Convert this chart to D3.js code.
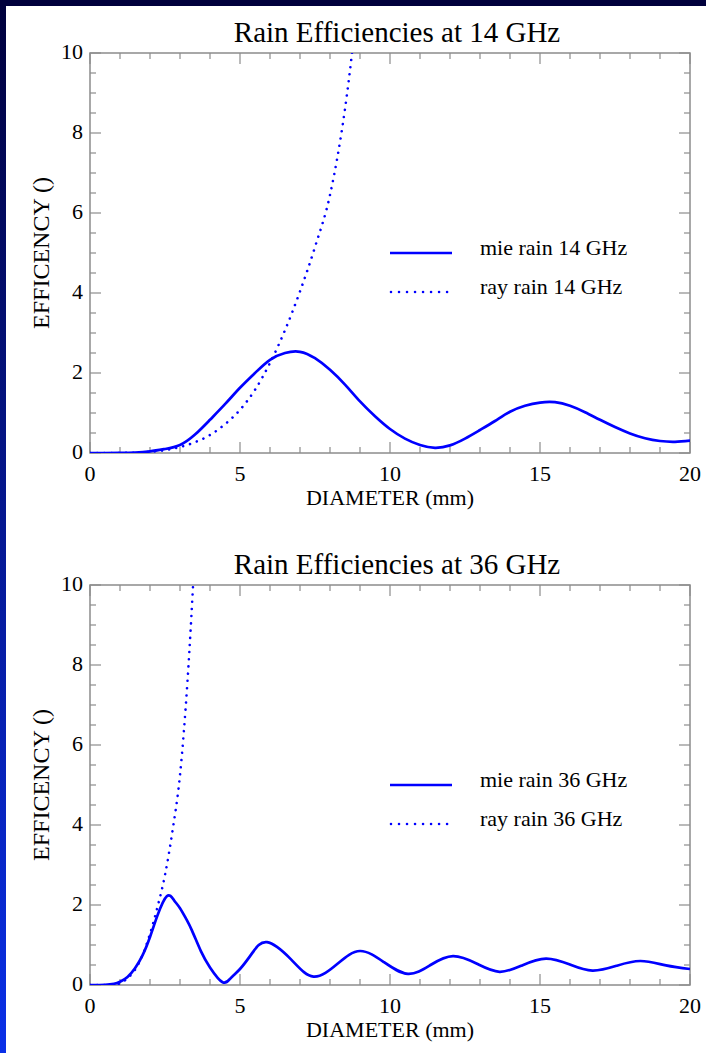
<!DOCTYPE html>
<html>
<head>
<meta charset="utf-8">
<script src="https://cdn.jsdelivr.net/npm/d3@7"></script>
<style>
  html, body { margin: 0; padding: 0; background: #ffffff; }
  svg { display: block; }
  text { font-family: "Liberation Serif", "Times New Roman", serif; fill: #000; }
</style>
</head>
<body>
<svg id="chart" width="706" height="1053"></svg>
<script>
// ---------- data ----------
const titles = ["Rain Efficiencies at 14 GHz", "Rain Efficiencies at 36 GHz"];
const xTickValues = [0, 5, 10, 15, 20];
const yTickValues = [0, 2, 4, 6, 8, 10];
const xLabel = "DIAMETER (mm)";
const yLabel = "EFFICENCY ()";
const legend14 = ["mie rain 14 GHz", "ray rain 14 GHz"];
const legend36 = ["mie rain 36 GHz", "ray rain 36 GHz"];

// 14 GHz Mie efficiency (diameter step 0.5 mm)
const mie14Diam = [0,0.5,1,1.5,2,2.5,3,3.5,4,4.5,5,5.5,6,6.5,7,7.5,8,8.5,9,9.5,10,
  10.5,11,11.5,12,12.5,13,13.5,14,14.5,15,15.5,16,16.5,17,17.5,18,18.5,19,19.5,20];
const mie14Eff = [0,0,0.002,0.01,0.04,0.1,0.2,0.46,0.83,1.22,1.63,2.0,2.33,2.5,2.53,2.37,2.08,1.71,1.29,0.92,0.6,
  0.36,0.2,0.13,0.19,0.36,0.575,0.8,1.03,1.18,1.26,1.27,1.18,1.02,0.83,0.65,0.49,0.37,0.3,0.28,0.31];

// 14 GHz Rayleigh efficiency
const ray14Diam = [0,0.5,1,1.5,2,2.5,3,3.5,4,4.5,5,5.5,6,6.5,7,7.5,8,8.5,9];
const ray14Eff  = [0,0,0.002,0.009,0.03,0.07,0.15,0.27,0.45,0.72,1.08,1.58,2.25,3.07,4.04,5.15,6.45,8.6,11.8];

// 36 GHz Mie efficiency
const mie36Diam = [0,0.5,0.8,1.0,1.25,1.5,1.75,2.0,2.25,2.56,2.8,3.0,3.2,3.4,3.7,4.0,4.42,4.7,5.0,5.4,5.9,
  6.7,7.45,8.25,9.0,9.8,10.6,11.35,12.1,12.9,13.65,14.4,15.2,16.0,16.75,17.55,18.35,19.2,20];
const mie36Eff = [0,0.005,0.03,0.08,0.2,0.42,0.74,1.2,1.74,2.22,2.12,1.92,1.66,1.36,0.84,0.44,0.07,0.18,0.4,0.79,1.07,
  0.64,0.21,0.53,0.85,0.57,0.28,0.5,0.72,0.53,0.33,0.49,0.66,0.51,0.36,0.48,0.6,0.49,0.4];

// 36 GHz Rayleigh efficiency
const ray36Diam = [0,0.5,0.75,1.0,1.25,1.5,1.75,2.0,2.25,2.5,2.75,3.0,3.25,3.5];
const ray36Eff  = [0,0.001,0.006,0.04,0.17,0.38,0.74,1.28,1.95,2.75,3.85,5.25,7.6,10.9];

// ---------- drawing ----------
const svg = d3.select("#chart");
const W = 706, H = 1053;

// background frame (navy gradient strips on top and left)
const defs = svg.append("defs");
const grad = defs.append("linearGradient").attr("id", "bg").attr("x1", 0).attr("y1", 0).attr("x2", 0).attr("y2", 1);
grad.append("stop").attr("offset", "0%").attr("stop-color", "#00003c");
grad.append("stop").attr("offset", "100%").attr("stop-color", "#0a30e8");
svg.append("rect").attr("x", 0).attr("y", 0).attr("width", W).attr("height", H).attr("fill", "url(#bg)");
svg.append("rect").attr("x", 0).attr("y", 0).attr("width", W).attr("height", 6).attr("fill", "#00003c");
svg.append("rect").attr("x", 6).attr("y", 6).attr("width", W - 6).attr("height", H - 6).attr("fill", "#ffffff");

const panels = [
  { top: 53, title: titles[0], legend: legend14,
    mie: mie14Diam.map((d, i) => [d, mie14Eff[i]]),
    ray: ray14Diam.map((d, i) => [d, ray14Eff[i]]) },
  { top: 585, title: titles[1], legend: legend36,
    mie: mie36Diam.map((d, i) => [d, mie36Eff[i]]),
    ray: ray36Diam.map((d, i) => [d, ray36Eff[i]]) }
];

const left = 90, right = 690, plotH = 400;
const axisColor = "#8c8c8c";
const lineColor = "#0000ff";
const fs = 22;

panels.forEach((p, idx) => {
  const top = p.top, bottom = top + plotH;
  const x = d3.scaleLinear().domain([0, 20]).range([left, right]);
  const y = d3.scaleLinear().domain([0, 10]).range([bottom, top]);
  const g = svg.append("g");

  // clip
  defs.append("clipPath").attr("id", "clip" + idx)
    .append("rect").attr("x", left).attr("y", top).attr("width", right - left).attr("height", plotH);

  // ticks (all four sides, inward)
  const minorX = d3.range(0, 21, 1).filter(v => v % 5 !== 0);
  const minorY = d3.range(0, 10.01, 0.5).filter(v => Math.abs(v % 2) > 1e-9);
  const tk = g.append("g").attr("stroke", axisColor).attr("stroke-width", 1.2);
  xTickValues.forEach(v => {
    tk.append("line").attr("x1", x(v)).attr("x2", x(v)).attr("y1", bottom).attr("y2", bottom - 11);
    tk.append("line").attr("x1", x(v)).attr("x2", x(v)).attr("y1", top).attr("y2", top + 11);
  });
  minorX.forEach(v => {
    tk.append("line").attr("x1", x(v)).attr("x2", x(v)).attr("y1", bottom).attr("y2", bottom - 6);
    tk.append("line").attr("x1", x(v)).attr("x2", x(v)).attr("y1", top).attr("y2", top + 6);
  });
  yTickValues.forEach(v => {
    tk.append("line").attr("y1", y(v)).attr("y2", y(v)).attr("x1", left).attr("x2", left + 11);
    tk.append("line").attr("y1", y(v)).attr("y2", y(v)).attr("x1", right).attr("x2", right - 11);
  });
  minorY.forEach(v => {
    tk.append("line").attr("y1", y(v)).attr("y2", y(v)).attr("x1", left).attr("x2", left + 6);
    tk.append("line").attr("y1", y(v)).attr("y2", y(v)).attr("x1", right).attr("x2", right - 6);
  });
  // frame
  g.append("rect").attr("x", left).attr("y", top).attr("width", right - left).attr("height", plotH)
    .attr("fill", "none").attr("stroke", axisColor).attr("stroke-width", 1.5);

  // tick labels
  xTickValues.forEach(v => {
    g.append("text").attr("x", x(v)).attr("y", bottom + 28).attr("text-anchor", "middle")
      .attr("font-size", fs).text(v);
  });
  yTickValues.forEach(v => {
    g.append("text").attr("x", left - 7).attr("y", y(v) + 6).attr("text-anchor", "end")
      .attr("font-size", fs).text(v);
  });

  // axis titles
  g.append("text").attr("x", (left + right) / 2).attr("y", bottom + 52).attr("text-anchor", "middle")
    .attr("font-size", fs).text(xLabel);
  g.append("text").attr("transform", `translate(49,${(top + bottom) / 2}) rotate(-90)`)
    .attr("text-anchor", "middle").attr("font-size", 24).text(yLabel);

  // title
  g.append("text").attr("x", 397).attr("y", top - 11).attr("text-anchor", "middle")
    .attr("font-size", 29).text(p.title);

  // curves
  const rayLine = d3.line().x(d => x(d[0])).y(d => y(d[1])).curve(d3.curveMonotoneX);
  const mieLine = d3.line().x(d => x(d[0])).y(d => y(d[1])).curve(d3.curveNatural);
  const cg = g.append("g").attr("clip-path", `url(#clip${idx})`);
  cg.append("path").datum(p.ray).attr("d", rayLine).attr("fill", "none")
    .attr("stroke", lineColor).attr("stroke-width", 2.6)
    .attr("stroke-linecap", "round").attr("stroke-dasharray", "0.01 7.2");
  cg.append("path").datum(p.mie).attr("d", mieLine).attr("fill", "none")
    .attr("stroke", lineColor).attr("stroke-width", 2.7);

  // legend
  const ly1 = top + 200, ly2 = top + 239;
  g.append("line").attr("x1", 390).attr("x2", 452).attr("y1", ly1).attr("y2", ly1)
    .attr("stroke", lineColor).attr("stroke-width", 2.7);
  g.append("line").attr("x1", 391).attr("x2", 452).attr("y1", ly2).attr("y2", ly2)
    .attr("stroke", lineColor).attr("stroke-width", 2.6)
    .attr("stroke-linecap", "round").attr("stroke-dasharray", "0.01 8");
  g.append("text").attr("x", 480).attr("y", ly1 + 2).attr("font-size", fs).text(p.legend[0]);
  g.append("text").attr("x", 480).attr("y", ly2 + 2).attr("font-size", fs).text(p.legend[1]);
});
</script>
</body>
</html>
